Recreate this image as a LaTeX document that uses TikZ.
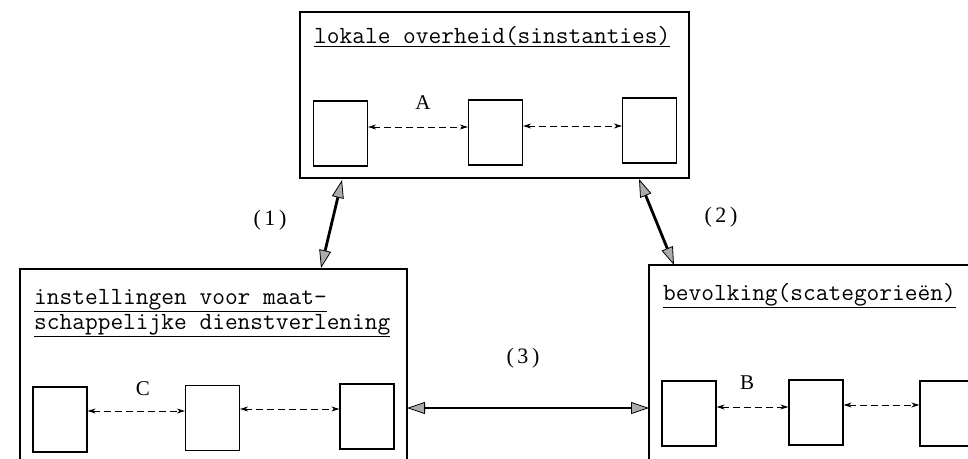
\documentclass[tikz,border=0pt]{standalone}
\usepackage{fontspec}
\setmainfont{Liberation Serif}
\usetikzlibrary{arrows.meta}
\tikzset{
  frame/.style={draw, line width=1.2pt, inner sep=0pt},
  cell/.style={draw, line width=1.2pt, minimum width=54pt, minimum height=65pt, inner sep=0pt},
  title/.style={anchor=base west, inner sep=0pt, font=\ttfamily\fontsize{24.7}{25}\selectfont},
  letter/.style={inner sep=0pt, font=\fontsize{21}{21}\selectfont},
  num/.style={inner sep=0pt, font=\fontsize{22}{22}\selectfont},
  small/.style={line width=1pt, dash pattern=on 7pt off 4pt, {Stealth[length=8pt,width=5pt]}-{Stealth[length=8pt,width=5pt]}},
  big/.style={line width=2.8pt, {Triangle[length=18pt,width=12pt,fill=gray!65,line width=0.8pt]}-{Triangle[length=18pt,width=12pt,fill=gray!65,line width=0.8pt]}}
}
\begin{document}
\begin{tikzpicture}[x=1pt,y=-1pt]
\useasboundingbox (0,0) rectangle (968,458);
\fill[white] (0,0) rectangle (968,458);
\clip (0,0) rectangle (968,458);

% top box
\node[frame, minimum width=389pt, minimum height=166pt] (top) at (494.5,95) {};
\node[title] (ttop) at (314,43) {\underline{lokale overheid(sinstanties)}};
\node[cell] (t1) at (340.5,133.5) {};
\node[cell] (t2) at (495.5,132.5) {};
\node[cell] (t3) at (649.5,130.5) {};
\node[letter] (la) at (423,103) {A};
\draw[small] (t1.east |- 0,127) -- (t2.west |- 0,127);
\draw[small] (t2.east |- 0,126) -- (t3.west |- 0,126);

% left box
\node[frame, minimum width=387pt, minimum height=230pt] (left) at (213.5,384) {};
\node[title] (tleft1) at (34,304) {\underline{instellingen voor maat-}};
\node[title] (tleft2) at (34,329) {\underline{schappelijke dienstverlening}};
\node[cell] (l1) at (60,419.5) {};
\node[cell] (l2) at (212.5,418) {};
\node[cell] (l3) at (367,416.5) {};
\node[letter] (lc) at (143,389) {C};
\draw[small] (l1.east |- 0,411) -- (l2.west |- 0,411);
\draw[small] (l2.east |- 0,409) -- (l3.west |- 0,409);

% right box
\node[frame, minimum width=360pt, minimum height=230pt] (right) at (829,380) {};
\node[title] (tright) at (663,300) {\underline{bevolking(scategorieën)}};
\node[cell] (r1) at (689,413.5) {};
\node[cell] (r2) at (816,412.5) {};
\node[cell] (r3) at (947,413.5) {};
\node[letter] (lb) at (747,383) {B};
\draw[small] (r1.east |- 0,407) -- (r2.west |- 0,407);
\draw[small] (r2.east |- 0,405) -- (r3.west |- 0,405);

% big connectors
\coordinate (c1a) at (342,180);
\coordinate (c1b) at (321,268);
\coordinate (c2a) at (639,179);
\coordinate (c2b) at (674,265);
\coordinate (c3a) at (407,408);
\coordinate (c3b) at (649,408);
\draw[big] (c1a) -- (c1b);
\draw[big] (c2a) -- (c2b);
\draw[big] (c3a) -- (c3b);
\node[num] (n1) at (270,220) {(\,1\,)};
\node[num] (n2) at (721,217) {(\,2\,)};
\node[num] (n3) at (523,358) {(\,3\,)};
\end{tikzpicture}
\end{document}
